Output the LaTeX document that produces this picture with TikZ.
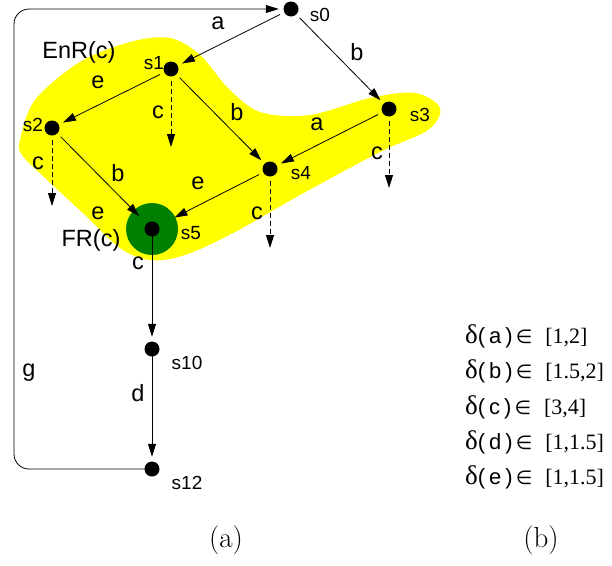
\documentclass[tikz,border=0pt]{standalone}
\usepackage{fontspec}
\newfontfamily\arial{Liberation Sans}
\newfontfamily\tnr{Liberation Serif}
\newfontfamily\dvs{DejaVu Sans}
\usetikzlibrary{arrows.meta}
\definecolor{blobyellow}{RGB}{255,255,0}
\definecolor{frgreen}{RGB}{0,128,0}
\newcommand{\dline}[2]{{\tnr\fontsize{27}{30}\selectfont δ}{\arial\fontsize{22}{26}\selectfont(\hspace{4pt}#1\hspace{4pt})}\hspace{3pt}{\dvs\fontsize{19}{22}\selectfont ∈}\hspace{13pt}{\tnr\fontsize{22}{26}\selectfont #2}}
\begin{document}
\begin{tikzpicture}[x=1pt,y=-1pt,
  state/.style={circle,minimum size=24pt,inner sep=0pt},
  arr/.style={line width=0.8pt,-{Triangle[length=13pt,width=8pt]}},
  darr/.style={line width=0.8pt,dash pattern=on 5pt off 3pt,-{Triangle[length=13pt,width=8pt]}},
  slab/.style={font=\arial\fontsize{19}{21}\selectfont,inner sep=0pt},
  elab/.style={font=\arial\fontsize{23.5}{26}\selectfont,inner sep=0pt},
  dlab/.style={anchor=base west,inner sep=0pt},
  captext/.style={font=\fontsize{29}{34}\selectfont,inner sep=0pt}]
\useasboundingbox (0,0) rectangle (612,565);
% yellow region
\fill[blobyellow] plot[smooth cycle,tension=0.55] coordinates {
 (20,140) (35,100) (80,62) (130,42) (170,38) (200,55) (228,88) (260,112)
 (310,115) (370,98) (415,93) (440,108) (428,130) (380,152) (300,195)
 (235,232) (185,255) (150,260) (120,248) (85,215) (45,178) (22,155)};
% states
\node[state] (s0) at (291,9) {};
\node[state] (s1) at (171,69) {};
\node[state] (s2) at (52,128) {};
\node[state] (s3) at (389,109) {};
\node[state] (s4) at (270,169) {};
\node[state] (s5) at (152,229) {};
\node[state] (s10) at (152,349) {};
\node[state] (s12) at (152,469) {};
\fill[frgreen] (s5.center) circle (26);
% helper coordinates
\coordinate (d1) at (171,147);
\coordinate (d2) at (52,206);
\coordinate (d3) at (389,188);
\coordinate (d4) at (270,248);
\coordinate (g1) at (14,469);
\coordinate (g2) at (14,9);
% edges
\draw[arr] (s0) -- (s1);
\draw[arr] (s0) -- (s3);
\draw[arr] (s1) -- (s2);
\draw[arr] (s1) -- (s4);
\draw[arr] (s3) -- (s4);
\draw[arr,shorten >=6pt] (s2) -- (s5);
\draw[arr,shorten >=13pt] (s4) -- (s5);
\draw[arr] (s5.center) -- (s10);
\draw[arr] (s10.center) -- (s12);
\draw[arr,rounded corners=15pt] (s12.center) -- (g1) -- (g2) -- (s0);
\draw[darr] (s1) -- (d1);
\draw[darr] (s2) -- (d2);
\draw[darr] (s3) -- (d3);
\draw[darr] (s4) -- (d4);
% dots
\foreach \s in {s0,s1,s2,s3,s4,s5,s10,s12} \fill (\s.center) circle (7.5);
% state labels
\node[slab] (l0) at (320,15) {s0};
\node[slab] (l1) at (154,63) {s1};
\node[slab] (l2) at (33,125) {s2};
\node[slab] (l3) at (420,115) {s3};
\node[slab] (l4) at (301,173) {s4};
\node[slab] (l5) at (191,233) {s5};
\node[slab] (l10) at (187,363) {s10};
\node[slab] (l12) at (187,483) {s12};
% edge labels
\node[elab] (ea1) at (218,23) {a};
\node[elab] (eb1) at (357,52) {b};
\node[elab] (ee1) at (98,82) {e};
\node[elab] (ec1) at (158,112) {c};
\node[elab] (eb2) at (237,112) {b};
\node[elab] (ea2) at (317,124) {a};
\node[elab] (ec3) at (377,153) {c};
\node[elab] (ec2) at (38,163) {c};
\node[elab] (eb3) at (118,173) {b};
\node[elab] (ee2) at (198,183) {e};
\node[elab] (ee3) at (98,213) {e};
\node[elab] (ec4) at (257,213) {c};
\node[elab] (ec5) at (138,263) {c};
\node[elab] (ed) at (138,393) {d};
\node[elab] (eg) at (29,373) {g};
\node[elab] (enr) at (79,52) {EnR(c)};
\node[elab] (fr) at (91,240) {FR(c)};
% delay table
\node[dlab] (t1) at (465,343) {\dline{a}{[1,2]}};
\node[dlab] (t2) at (465,378) {\dline{b}{[1.5,2]}};
\node[dlab] (t3) at (465,414) {\dline{c}{[3,4]}};
\node[dlab] (t4) at (465,449) {\dline{d}{[1,1.5]}};
\node[dlab] (t5) at (465,484) {\dline{e}{[1,1.5]}};
% captions
\node[captext] (ca) at (226,540) {(a)};
\node[captext] (cb) at (541,540) {(b)};
\end{tikzpicture}
\end{document}
